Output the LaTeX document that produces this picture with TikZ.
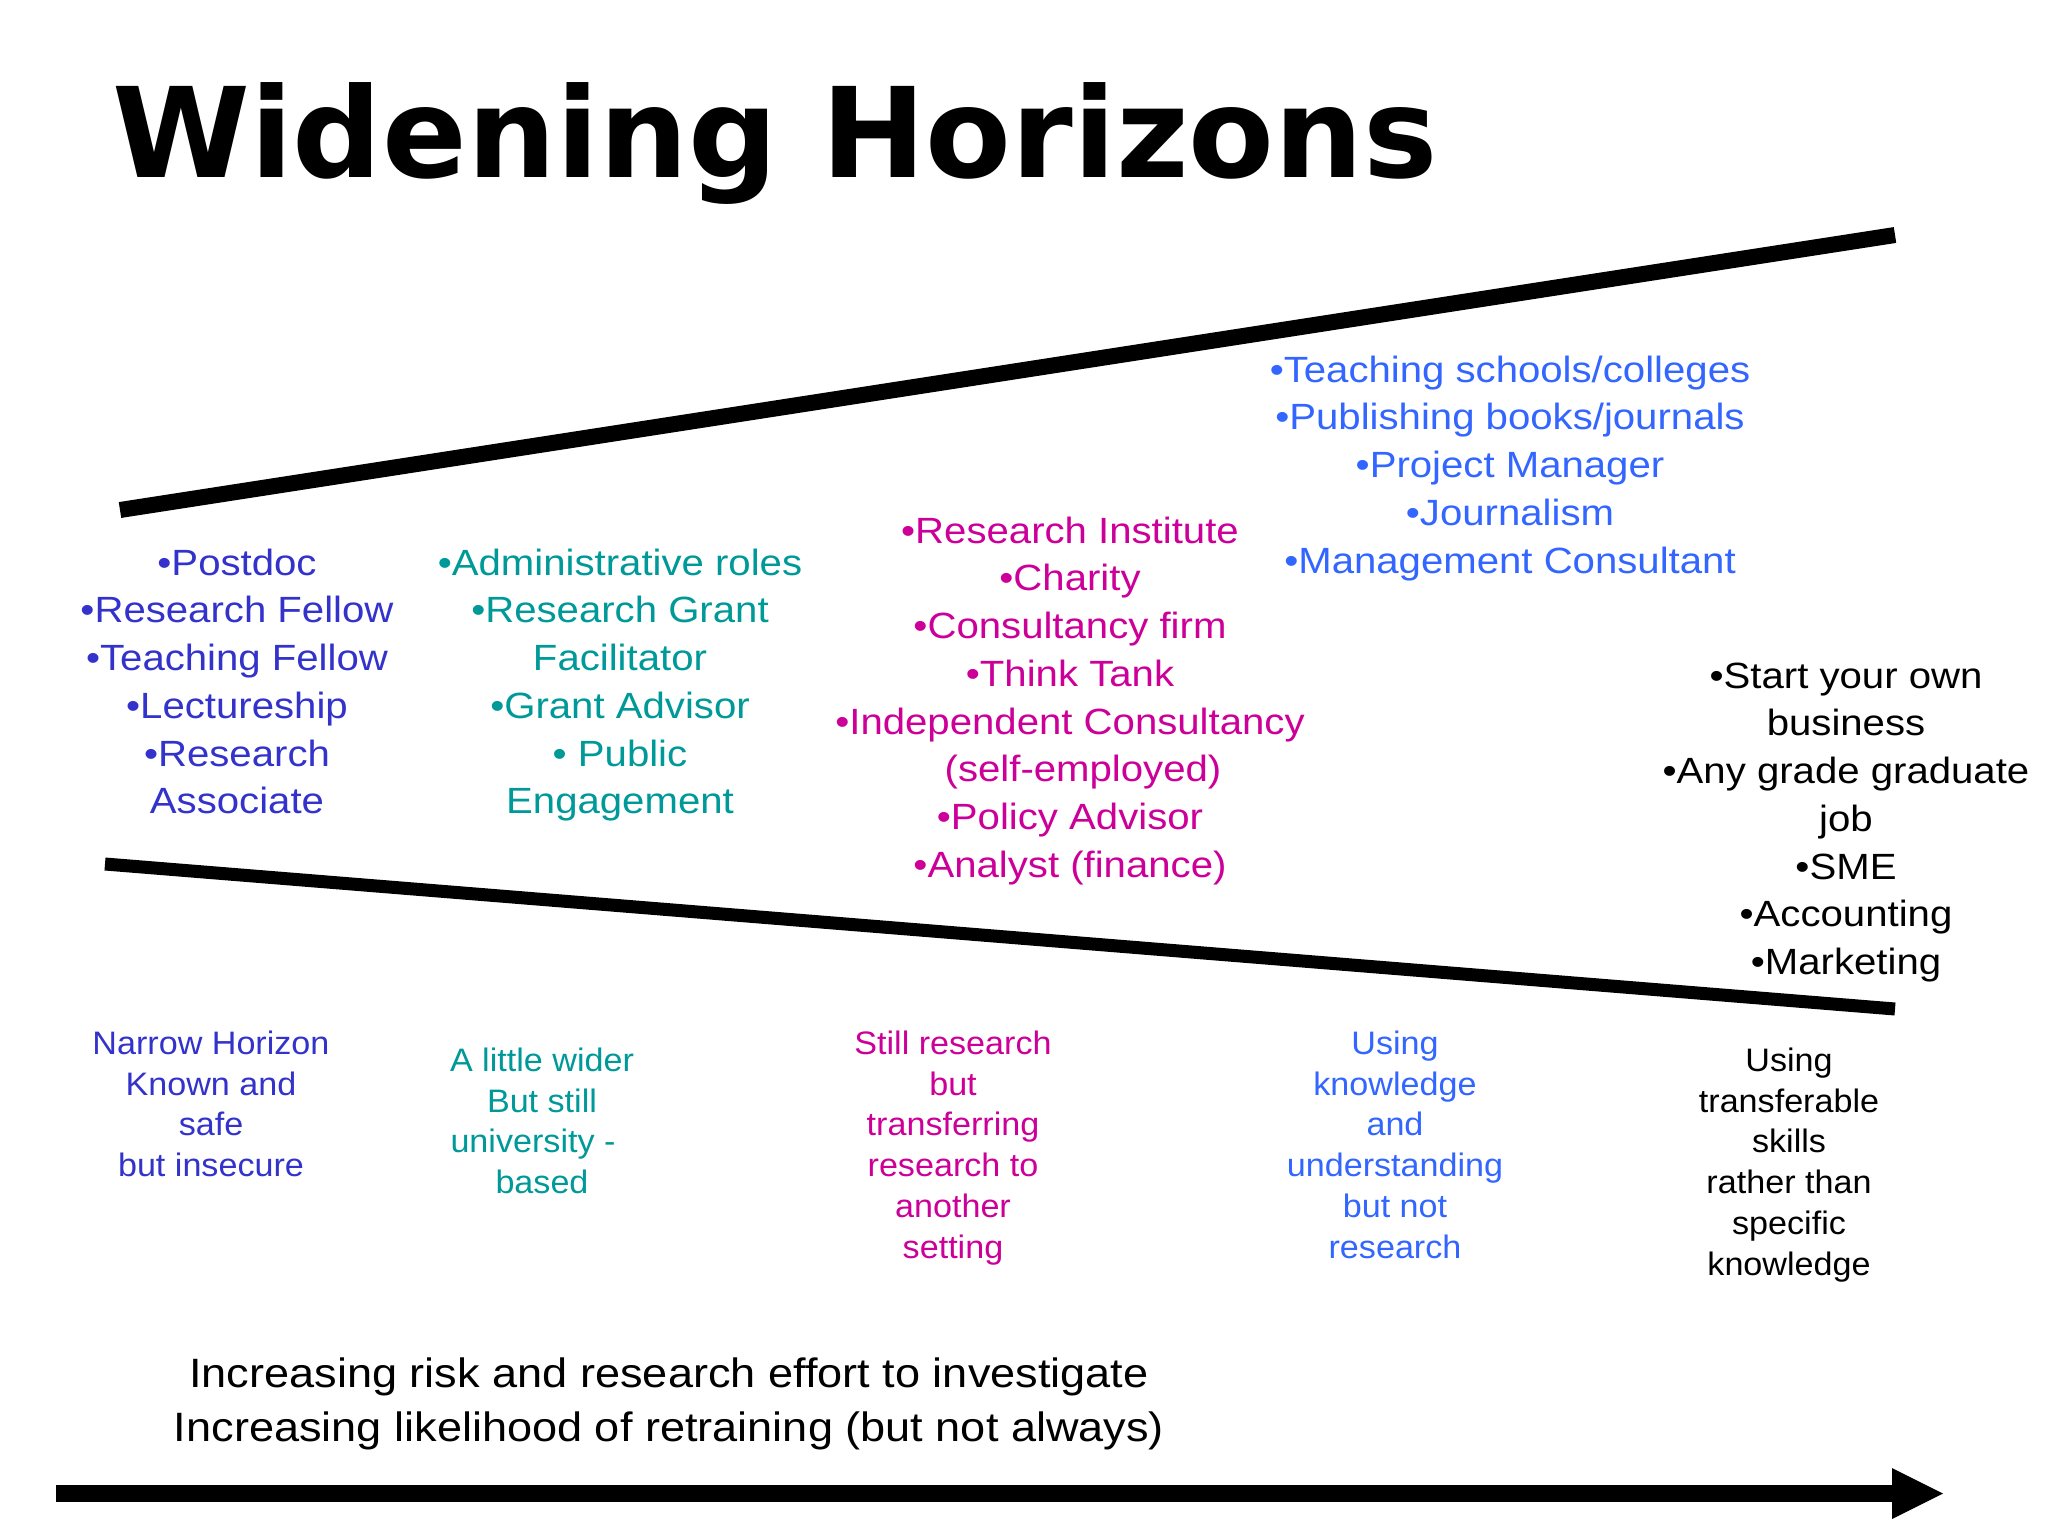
\documentclass[tikz,border=0pt]{standalone}
\usepackage{fontspec}
\setmainfont{Liberation Sans}
\newfontfamily\ttlfont{DejaVu Sans}
\newfontfamily\lstfont[FakeStretch=1.1]{Liberation Sans}
\newfontfamily\lblfont[FakeStretch=1.05]{Liberation Sans}
\definecolor{cone}{RGB}{51,51,204}
\definecolor{ctwo}{RGB}{0,153,153}
\definecolor{cthree}{RGB}{204,0,153}
\definecolor{cfour}{RGB}{51,102,255}
\newcommand{\Sa}{\rule{0pt}{30pt}}
\newcommand{\Sb}{\rule{0pt}{27pt}}
\newcommand{\Sc}{\rule{0pt}{34pt}}
\begin{document}
\begin{tikzpicture}[x=1pt,y=-1pt,
  lst/.style={inner sep=0pt, anchor=north, align=center, font=\lstfont\fontsize{36.5}{47.7}\selectfont},
  lbl/.style={inner sep=0pt, anchor=north, align=center, font=\lblfont\fontsize{32.5}{40.8}\selectfont},
  bottomtext/.style={inner sep=0pt, anchor=north, align=center, font=\lstfont\fontsize{41}{54.5}\selectfont}
]
\fill[white] (0,0) rectangle (2048,1536);
\useasboundingbox (0,0) rectangle (2048,1536);

% title
\node[anchor=base west, inner sep=0pt, font=\ttlfont\bfseries\fontsize{125}{150}\selectfont] (title) at (112,178) {Widening Horizons};

% horizon lines
\coordinate (tl) at (120,510);
\coordinate (tr) at (1895,235);
\coordinate (bl) at (105,864);
\coordinate (br) at (1895,1009);
\draw[line width=16pt] (tl) -- (tr);
\draw[line width=13pt] (bl) -- (br);

% arrow
\coordinate (as) at (56,1493.5);
\coordinate (ab) at (1892,1493.5);
\coordinate (at) at (1943,1493.5);
\coordinate (ahu) at (1892,1468);
\coordinate (ahd) at (1892,1519);
\draw[line width=17pt] (as) -- (ab);
\fill (ahu) -- (at) -- (ahd) -- cycle;

% upper lists
\node[lst, text=cone] (c1) at (237,545) {\Sa•Postdoc\\•Research Fellow\\•Teaching Fellow\\•Lectureship\\•Research\\Associate};
\node[lst, text=ctwo] (c2) at (620,545) {\Sa•Administrative roles\\•Research Grant\\Facilitator\\•Grant Advisor\\• Public\\Engagement};
\node[lst, text=cthree] (c3) at (1070,513) {\Sa•Research Institute\\•Charity\\•Consultancy firm\\•Think Tank\\•Independent Consultancy\\\hspace*{26pt}(self-employed)\\•Policy Advisor\\•Analyst (finance)};
\node[lst, text=cfour] (c4) at (1510,352) {\Sa•Teaching schools/colleges\\•Publishing books/journals\\•Project Manager\\•Journalism\\•Management Consultant};
\node[lst, text=black] (c5) at (1846,658) {\Sa•Start your own\\business\\•Any grade graduate\\job\\•SME\\•Accounting\\•Marketing};

% lower labels
\node[lbl, text=cone] (l1) at (211,1027) {\Sb Narrow Horizon\\Known and\\safe\\but insecure};
\node[lbl, text=ctwo] (l2) at (542,1044) {\Sb A little wider\\But still\\university -\hspace*{18pt}\mbox{}\\based};
\node[lbl, text=cthree] (l3) at (953,1027) {\Sb Still research\\but\\transferring\\research to\\another\\setting};
\node[lbl, text=cfour] (l4) at (1395,1027) {\Sb Using\\knowledge\\and\\understanding\\but not\\research};
\node[lbl, text=black] (l5) at (1789,1044) {\Sb Using\\transferable\\skills\\rather than\\specific\\knowledge};

% bottom text
\node[bottomtext] (bt) at (669,1353) {\Sc Increasing risk and research effort to investigate\\Increasing likelihood of retraining (but not always)};
\end{tikzpicture}
\end{document}
